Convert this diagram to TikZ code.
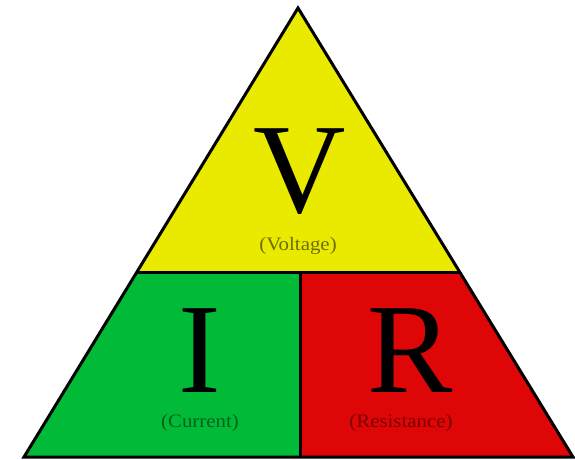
\documentclass[tikz,border=0pt]{standalone}
\usepackage{fontspec}
\setmainfont{Liberation Serif}
\usetikzlibrary{calc}
\definecolor{vyel}{RGB}{234,234,0}
\definecolor{igrn}{RGB}{0,186,56}
\definecolor{rred}{RGB}{222,6,6}
\definecolor{vtxt}{RGB}{110,110,0}
\definecolor{itxt}{RGB}{0,100,28}
\definecolor{rtxt}{RGB}{125,0,0}
\tikzset{
  big/.style={font=\fontsize{128}{128}\selectfont, inner sep=0pt, anchor=base, text=black, text depth=0pt, text height=85pt},
  small/.style={font=\fontsize{19}{19}\selectfont, inner sep=0pt, anchor=base, xscale=1.1},
  edge/.style={draw=black, line width=3pt, line join=miter}
}
\begin{document}
\begin{tikzpicture}[x=1pt,y=-1pt]
\useasboundingbox (0,0) rectangle (575,460);
\fill[white] (0,0) rectangle (575,460);
\coordinate (top) at (298,8);
\coordinate (bl) at (24,457);
\coordinate (br) at (573,457);
\coordinate (ml) at ($(top)!{264/449}!(bl)$);
\coordinate (mr) at ($(top)!{264/449}!(br)$);
\coordinate (mm) at (300,272);
\coordinate (bm) at (300,457);
\fill[vyel] (top) -- (mr) -- (ml) -- cycle;
\fill[igrn] (ml) -- (mm) -- (bm) -- (bl) -- cycle;
\fill[rred] (mm) -- (mr) -- (br) -- (bm) -- cycle;
\draw[edge] (ml) -- (mr);
\draw[edge] (mm) -- (bm);
\draw[edge] (top) -- (br) -- (bl) -- cycle;
\node[big] (v) at (300,212) {V};
\node[big] (i) at (200,392) {I};
\node[big] (r) at (410,392) {R};
\node[small, text=vtxt] (vl) at (298,250) {(Voltage)};
\node[small, text=itxt] (il) at (200,427) {(Current)};
\node[small, text=rtxt] (rl) at (401,427) {(Resistance)};
\end{tikzpicture}
\end{document}
